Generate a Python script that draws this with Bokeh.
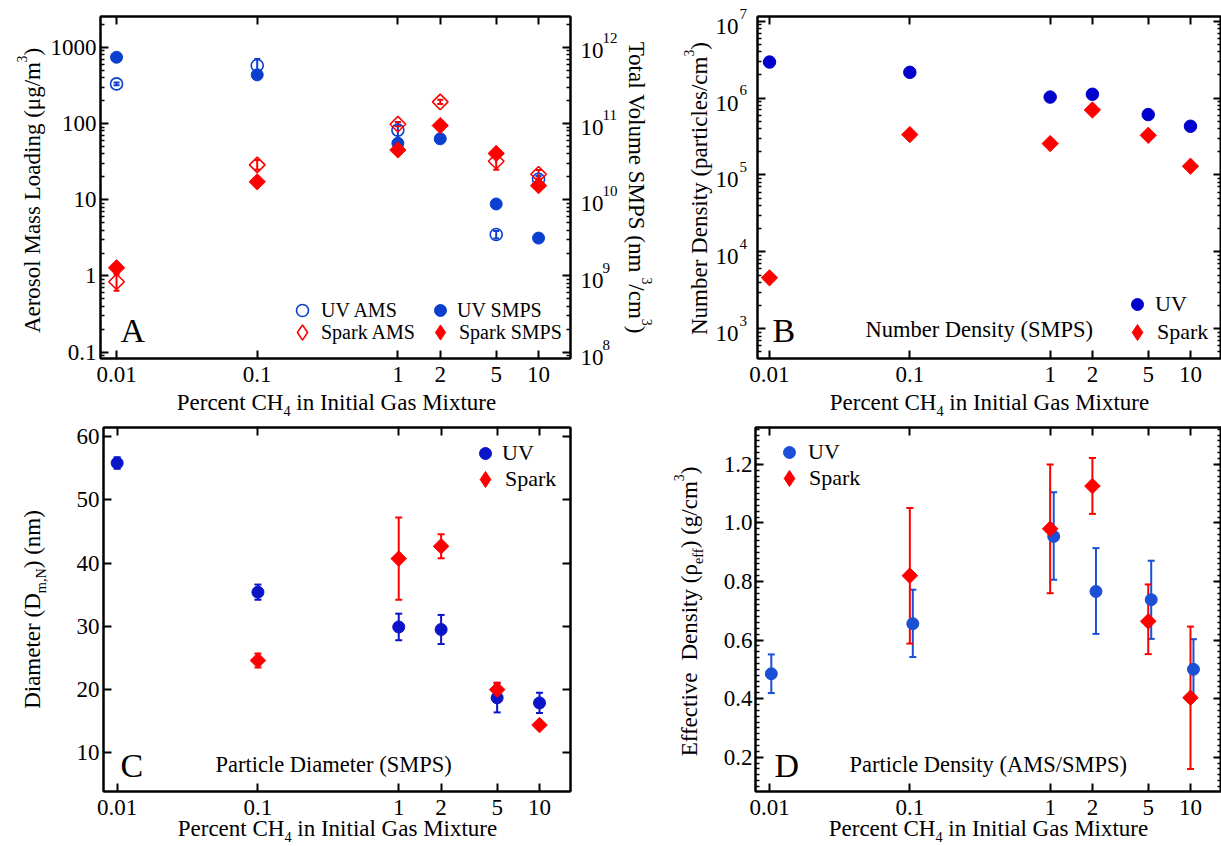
import math
from bokeh.plotting import figure
from bokeh.models import (LogAxis, LinearAxis, Range1d, FixedTicker, CustomJSTickFormatter,
                          Label, Whisker, TeeHead, ColumnDataSource, Legend, LegendItem, LogScale,
                          GridBox)
from bokeh.layouts import row, column
from bokeh.embed import file_html
from bokeh.resources import INLINE

FONT = "Liberation Serif"

# ---------------- data ----------------
x_ticks = [0.01, 0.1, 1, 2, 5, 10]
pct = [0.01, 0.1, 1, 2, 5, 10]

# Panel A: aerosol mass loading (AMS, left axis) and total volume (SMPS, right axis)
uv_ams_pct = [0.01, 0.1, 1, 5, 10]
uv_ams = [331, 577, 82, 3.5, 18.6]
uv_ams_lo = [318, 497, 60, 3.1, 17.0]
uv_ams_hi = [344, 703, 105, 3.9, 20.5]
spark_ams = [0.84, 28.7, 98, 192, 32, 21.6]
spark_ams_lo = [0.64, 24.7, 92, 180, 24.7, 19.0]
spark_ams_hi = [1.05, 33.3, 104, 205, 40, 24.5]
uv_smps_vol = [7.4e11, 4.35e11, 5.5e10, 6.3e10, 8.8e9, 3.14e9]
spark_smps_vol = [1.28e9, 1.72e10, 4.5e10, 9.4e10, 4.05e10, 1.53e10]
mass_ticks = [0.1, 1, 10, 100, 1000]
vol_exps = [8, 9, 10, 11, 12]

# Panel B: number density
uv_nd = [2.94e6, 2.16e6, 1.03e6, 1.12e6, 6.1e5, 4.3e5]
spark_nd = [4.6e3, 3.35e5, 2.56e5, 7.0e5, 3.28e5, 1.3e5]
nd_exps = [3, 4, 5, 6, 7]

# Panel C: particle diameter
uv_d = [55.8, 35.4, 29.9, 29.5, 18.7, 17.9]
uv_d_err = [0.9, 1.2, 2.1, 2.3, 2.3, 1.6]
spark_pct = [0.1, 1, 2, 5, 10]
spark_d = [24.6, 40.7, 42.65, 20.0, 14.4]
spark_d_err = [1.1, 6.5, 1.9, 1.1, 0.3]
d_ticks = [10, 20, 30, 40, 50, 60]

# Panel D: effective density
uv_rho_pct = [0.0103, 0.105, 1.06, 2.12, 5.25, 10.5]
uv_rho = [0.485, 0.656, 0.954, 0.766, 0.738, 0.500]
uv_rho_lo = [0.419, 0.542, 0.806, 0.621, 0.604, 0.400]
uv_rho_hi = [0.551, 0.772, 1.105, 0.914, 0.871, 0.603]
spark_rho = [0.820, 0.980, 1.126, 0.664, 0.403]
spark_rho_lo = [0.588, 0.760, 1.031, 0.552, 0.160]
spark_rho_hi = [1.051, 1.200, 1.222, 0.790, 0.646]
rho_ticks = [0.2, 0.4, 0.6, 0.8, 1.0, 1.2]

RED = "#ff0000"
BLUE_A = "#0b3fcf"
BLUE_B = "#0000cc"
BLUE_C = "#0a14c8"
BLUE_D = "#1a4fd6"

PAGE_W, PAGE_H = 1221, 846
MID = 0.34  # distance from baseline to the 'middle' anchor, in em

# Times New Roman / Liberation Serif advance widths (1/1000 em)
CW = {' ': 250, '(': 333, ')': 333, ',': 250, '.': 250, '/': 278, 'μ': 520, 'ρ': 500,
      'A': 722, 'B': 667, 'C': 667, 'D': 722, 'E': 611, 'F': 556, 'G': 722, 'H': 722, 'I': 333,
      'J': 389, 'K': 722, 'L': 611, 'M': 889, 'N': 722, 'O': 722, 'P': 556, 'Q': 722, 'R': 667,
      'S': 556, 'T': 611, 'U': 722, 'V': 722, 'W': 944, 'X': 722, 'Y': 722, 'Z': 611,
      'a': 444, 'b': 500, 'c': 444, 'd': 500, 'e': 444, 'f': 333, 'g': 500, 'h': 500, 'i': 278,
      'j': 278, 'k': 500, 'l': 278, 'm': 778, 'n': 500, 'o': 500, 'p': 500, 'q': 500, 'r': 333,
      's': 389, 't': 278, 'u': 500, 'v': 500, 'w': 722, 'x': 500, 'y': 500, 'z': 444}


def tw(s, fs):
    return sum(CW.get(c, 500) for c in s) * fs / 1000.0


# transparent overlay figure that carries all texts outside the plot frames
ov = figure(width=PAGE_W, height=PAGE_H, x_range=Range1d(0, PAGE_W), y_range=Range1d(0, PAGE_H),
            toolbar_location=None, output_backend='svg', min_border=0,
            x_axis_location=None, y_axis_location=None)
ov.grid.visible = False
ov.outline_line_color = None
ov.background_fill_color = None
ov.border_fill_color = None

UPVEC = {0: (0.0, -1.0), 90: (-1.0, 0.0), -90: (1.0, 0.0)}
RAD = {0: 0.0, 90: math.pi / 2, -90: -math.pi / 2}


def txt(s, px, py, fs, angle=0, align='left'):
    """Text whose baseline starts (align='left') or ends (align='right') at page point (px, py)."""
    ux, uy = UPVEC[angle]
    ax = px + ux * MID * fs
    ay = py + uy * MID * fs
    ov.add_layout(Label(x=ax, y=PAGE_H - ay, x_units='screen', y_units='screen', text=s,
                        angle=RAD[angle], text_font=FONT, text_font_size=f"{fs:.1f}px",
                        text_align=align, text_baseline='middle', text_color='black'))


def rich(runs, x, y, angle=0, fs=23, align='center'):
    """Text runs (normal / sup / sub) placed along a baseline at page coordinates."""
    size = {'n': fs, 'sup': fs * 0.6, 'sub': fs * 0.62}
    shift = {'n': 0.0, 'sup': fs * 0.62, 'sub': -fs * 0.24}
    widths = [tw(t, size[k]) for t, k in runs]
    L = sum(widths)
    pos = -L / 2 if align == 'center' else 0.0
    for (t, k), w in zip(runs, widths):
        lead = len(t) - len(t.lstrip(' '))
        s = t.strip(' ')
        off = pos + tw(' ' * lead, size[k])
        up = shift[k]
        if angle == 0:
            px, py = x + off, y - up
        elif angle == 90:
            px, py = x - up, y - off
        else:
            px, py = x + up, y + off
        txt(s, px, py, size[k], angle=angle)
        pos += w


def log_page_y(v, rng, top, bot):
    a, b = math.log10(rng[0]), math.log10(rng[1])
    return bot - (math.log10(v) - a) / (b - a) * (bot - top)


def style_axis(ax, fs='23px', standoff=4):
    ax.axis_line_width = 2
    ax.axis_line_color = 'black'
    ax.major_tick_line_width = 2
    ax.minor_tick_line_width = 1.5
    ax.major_tick_line_color = 'black'
    ax.minor_tick_line_color = 'black'
    ax.major_tick_in = 8
    ax.major_tick_out = 0
    ax.minor_tick_in = 4
    ax.minor_tick_out = 0
    ax.major_label_text_font = FONT
    ax.major_label_text_font_size = fs
    ax.major_label_text_color = 'black'
    ax.major_label_standoff = standoff
    ax.axis_label = None


def make_fig(w, h, bl, br, bt, bb, xr, yr, ylog):
    p = figure(width=w, height=h, x_axis_type='log', y_axis_type='log' if ylog else 'linear',
               x_range=Range1d(*xr), y_range=Range1d(*yr), toolbar_location=None,
               output_backend='svg', min_border_left=bl, min_border_right=br,
               min_border_top=bt, min_border_bottom=bb)
    p.grid.visible = False
    p.outline_line_color = 'black'
    p.outline_line_width = 2
    p.background_fill_color = 'white'
    p.border_fill_color = 'white'
    xa = p.xaxis[0]
    xa.ticker = FixedTicker(ticks=x_ticks, minor_ticks=[])
    xa.formatter = CustomJSTickFormatter(code="return String(tick)")
    style_axis(xa, standoff=8)
    top = LogAxis(ticker=FixedTicker(ticks=x_ticks, minor_ticks=[]))
    style_axis(top, fs='0px', standoff=0)
    top.formatter = CustomJSTickFormatter(code="return ''")
    p.add_layout(top, 'above')
    return p


def sc(p, x, y, marker, color, size, filled=True, **kw):
    src = ColumnDataSource(dict(x=x, y=y))
    return p.scatter('x', 'y', source=src, marker=marker, size=size,
                     angle=math.pi / 4 if marker == 'square' else 0.0,
                     fill_color=color if filled else None, line_color=color,
                     line_width=1 if filled else 1.6, **kw)


def key(p, x, y, marker, color, filled=True, **kw):
    """Zero-size copy of a series, used only to draw its legend key."""
    src = ColumnDataSource(dict(x=x, y=y))
    return p.scatter('x', 'y', source=src, marker=marker, size=0,
                     fill_color=color if filled else None, line_color=color,
                     line_width=1 if filled else 1.6, **kw)


def whisk(p, x, lo, hi, color, head=7, lw=2):
    src = ColumnDataSource(dict(x=x, lo=lo, hi=hi))
    wk = Whisker(source=src, base='x', lower='lo', upper='hi', dimension='height',
                 line_color=color, line_width=lw, level='underlay',
                 upper_head=TeeHead(size=head, line_color=color, line_width=lw),
                 lower_head=TeeHead(size=head, line_color=color, line_width=lw))
    p.add_layout(wk)


def legend_item(p, fl, fb, label, rend, cx, cy, text_x, g, fs):
    lg = Legend(items=[LegendItem(label=label, renderers=[rend])],
                location=(cx - g / 2 - fl, fb - (cy + g / 2)), orientation='vertical',
                glyph_width=g, glyph_height=g, label_height=g, spacing=0,
                padding=0, margin=0, label_standoff=int(round(text_x - (cx + g / 2))),
                label_text_font=FONT, label_text_font_size=fs, label_text_color='black',
                label_text_baseline='middle',
                border_line_alpha=0, background_fill_alpha=0)
    p.add_layout(lg)


def log_minors(e0, e1):
    return [m * 10.0 ** e for e in range(e0, e1) for m in range(2, 10)]


# ---------------- Panel A ----------------
A_FL, A_FT, A_FB = 100, 14, 358
A_X = (0.00769, 16.87)
A_Y = (0.0827, 2535)
A_VOL = (0.0827e9, 2535e9)
pA = make_fig(655, 415, 100, 85, 14, 57, A_X, A_Y, True)
ya = pA.yaxis[0]
ya.ticker = FixedTicker(ticks=mass_ticks, minor_ticks=log_minors(-2, 4))
ya.formatter = CustomJSTickFormatter(code="return String(tick)")
style_axis(ya, standoff=4)
pA.extra_y_ranges = {'vol': Range1d(*A_VOL)}
pA.extra_y_scales = {'vol': LogScale()}
ra = LogAxis(y_range_name='vol', ticker=FixedTicker(ticks=[10.0 ** e for e in vol_exps],
                                                      minor_ticks=log_minors(7, 13)))
style_axis(ra, fs='0px', standoff=0)
ra.formatter = CustomJSTickFormatter(code="return ''")
pA.add_layout(ra, 'right')

whisk(pA, uv_ams_pct, uv_ams_lo, uv_ams_hi, BLUE_A, head=6)
whisk(pA, pct, spark_ams_lo, spark_ams_hi, RED, head=6)
r_uv_ams = sc(pA, uv_ams_pct, uv_ams, 'circle', BLUE_A, 12, filled=False)
sc(pA, pct, spark_ams, 'square', RED, 11, filled=False)
r_uv_smps = sc(pA, pct, uv_smps_vol, 'circle', BLUE_A, 12, y_range_name='vol')
sc(pA, pct, spark_smps_vol, 'square', RED, 11.5, y_range_name='vol')
k_sp_ams = key(pA, pct, spark_ams, 'diamond', RED, False)
k_sp_smps = key(pA, pct, spark_smps_vol, 'diamond', RED, y_range_name='vol')

legend_item(pA, A_FL, A_FB, "UV AMS", r_uv_ams, 302, 310, 321, 30, '20px')
legend_item(pA, A_FL, A_FB, "Spark AMS", k_sp_ams, 302, 332, 321, 38, '20px')
legend_item(pA, A_FL, A_FB, "UV SMPS", r_uv_smps, 440, 310, 457, 30, '20px')
legend_item(pA, A_FL, A_FB, "Spark SMPS", k_sp_smps, 440, 332, 457, 38, '20px')

for e in vol_exps:
    ty = log_page_y(10.0 ** e, A_VOL, A_FT, A_FB)
    txt("10", 580, ty + 5 + MID * 23, 23)
    txt(str(e), 602, ty - 2.5, 15)

rich([("Percent CH", 'n'), ("4", 'sub'), (" in Initial Gas Mixture", 'n')], 336, 410)
rich([("Aerosol Mass Loading (μg/m", 'n'), ("3", 'sup'), (")", 'n')], 40, 190, angle=90)
rich([("Total Volume SMPS (nm", 'n'), ("3", 'sup'), ("/cm", 'n'), ("3", 'sup'), (")", 'n')],
     628, 187, angle=-90)
txt("A", 120, 342, 34)

# ---------------- Panel B ----------------
B_FL, B_FT, B_FB = 757, 16, 358
B_Y = (411, 1.15e7)
pB = make_fig(566, 415, 102, 0, 16, 57, (10 ** -2.0855, 10 ** 1.221), B_Y, True)
nd_tick_vals = [10.0 ** e for e in nd_exps]
yb = pB.yaxis[0]
yb.ticker = FixedTicker(ticks=nd_tick_vals, minor_ticks=log_minors(2, 8))
yb.formatter = CustomJSTickFormatter(code="return ''")
style_axis(yb, fs='0px', standoff=0)
rb = LogAxis(ticker=FixedTicker(ticks=nd_tick_vals, minor_ticks=log_minors(2, 8)))
style_axis(rb, fs='0px', standoff=0)
rb.formatter = CustomJSTickFormatter(code="return ''")
pB.add_layout(rb, 'right')

r_b_uv = sc(pB, pct, uv_nd, 'circle', BLUE_B, 12.5)
sc(pB, pct, spark_nd, 'square', RED, 11.5)
k_b_sp = key(pB, pct, spark_nd, 'diamond', RED)
legend_item(pB, B_FL, B_FB, "UV", r_b_uv, 1137, 304, 1155, 30, '22px')
legend_item(pB, B_FL, B_FB, "Spark", k_b_sp, 1137, 332, 1155, 40, '22px')

for e in nd_exps:
    ty = log_page_y(10.0 ** e, B_Y, B_FT, B_FB)
    txt("10", 738, ty + 5 + MID * 23, 23, align='right')
    txt(str(e), 739, ty - 2.5, 15)

rich([("Percent CH", 'n'), ("4", 'sub'), (" in Initial Gas Mixture", 'n')], 989, 410)
rich([("Number Density (particles/cm", 'n'), ("3", 'sup'), (")", 'n')], 707, 188, angle=90)
txt("B", 772, 342, 34)
txt("Number Density (SMPS)", 865, 337, 22.5)

# ---------------- Panel C ----------------
C_FL, C_FB = 103, 791
pC = make_fig(655, 431, 103, 85, 11, 55, (10 ** -2.097, 10 ** 1.22), (3.90, 61.42), False)
yc = pC.yaxis[0]
yc.ticker = FixedTicker(ticks=d_ticks, minor_ticks=[])
style_axis(yc, standoff=4)
rc = LinearAxis(ticker=FixedTicker(ticks=d_ticks, minor_ticks=[]))
style_axis(rc, fs='0px', standoff=0)
rc.formatter = CustomJSTickFormatter(code="return ''")
pC.add_layout(rc, 'right')

whisk(pC, pct, [v - e for v, e in zip(uv_d, uv_d_err)], [v + e for v, e in zip(uv_d, uv_d_err)], BLUE_C)
whisk(pC, spark_pct, [v - e for v, e in zip(spark_d, spark_d_err)],
      [v + e for v, e in zip(spark_d, spark_d_err)], RED)
r_c_uv = sc(pC, pct, uv_d, 'circle', BLUE_C, 12)
sc(pC, spark_pct, spark_d, 'square', RED, 11)
k_c_sp = key(pC, spark_pct, spark_d, 'diamond', RED)
legend_item(pC, C_FL, C_FB, "UV", r_c_uv, 485, 453, 502, 30, '22px')
legend_item(pC, C_FL, C_FB, "Spark", k_c_sp, 485, 479, 502, 40, '22px')

rich([("Percent CH", 'n'), ("4", 'sub'), (" in Initial Gas Mixture", 'n')], 337, 836)
rich([("Diameter (D", 'n'), ("m,N", 'sub'), (") (nm)", 'n')], 40, 609, angle=90)
txt("C", 120, 777, 34)
txt("Particle Diameter (SMPS)", 215, 772, 22.5)

# ---------------- Panel D ----------------
D_FL, D_FB = 755, 791
pD = make_fig(566, 431, 100, 0, 12, 55, (10 ** -2.0998, 10 ** 1.221), (0.0828, 1.326), False)
rho_minor = [round(0.08 + 0.02 * i, 2) for i in range(63)]
yd = pD.yaxis[0]
yd.ticker = FixedTicker(ticks=rho_ticks, minor_ticks=rho_minor)
yd.formatter = CustomJSTickFormatter(code="return tick.toFixed(1)")
style_axis(yd, standoff=3)
rd = LinearAxis(ticker=FixedTicker(ticks=rho_ticks, minor_ticks=rho_minor))
style_axis(rd, fs='0px', standoff=0)
rd.formatter = CustomJSTickFormatter(code="return ''")
pD.add_layout(rd, 'right')

whisk(pD, uv_rho_pct, uv_rho_lo, uv_rho_hi, BLUE_D)
whisk(pD, spark_pct, spark_rho_lo, spark_rho_hi, RED)
r_d_uv = sc(pD, uv_rho_pct, uv_rho, 'circle', BLUE_D, 12)
sc(pD, spark_pct, spark_rho, 'square', RED, 11)
k_d_sp = key(pD, spark_pct, spark_rho, 'diamond', RED)
legend_item(pD, D_FL, D_FB, "UV", r_d_uv, 789, 452, 808, 30, '22px')
legend_item(pD, D_FL, D_FB, "Spark", k_d_sp, 789, 478, 808, 40, '22px')

rich([("Percent CH", 'n'), ("4", 'sub'), (" in Initial Gas Mixture", 'n')], 988, 836)
rich([("Effective", 'n'), ("  Density (ρ", 'n'), ("eff", 'sub'), (") (g/cm", 'n'),
      ("3", 'sup'), (")", 'n')], 697, 611, angle=90)
txt("D", 774, 777, 34)
txt("Particle Density (AMS/SMPS)", 849, 772, 22.5)

main = column(row(pA, pB), row(pC, pD))
page = GridBox(children=[(main, 0, 0), (ov, 0, 0)])
open("out.html", "w").write(file_html(page, INLINE))
